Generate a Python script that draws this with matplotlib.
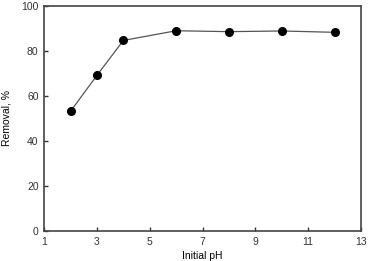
import matplotlib
matplotlib.use("Agg")
import matplotlib.pyplot as plt

ph = [2, 3, 4, 6, 8, 10, 12]
removal = [53.2, 69.2, 84.7, 89.0, 88.6, 88.9, 88.3]

plt.rcParams['font.family'] = ['Liberation Sans', 'DejaVu Sans']

fig = plt.figure(figsize=(3.68, 2.61), dpi=100)
ax = fig.add_axes([0.12, 0.115, 0.861, 0.862])

ax.plot(ph, removal, color='#555555', lw=0.9, marker='o', ms=5.5,
        mfc='black', mec='black', zorder=3)

ax.set_xlim(1, 13)
ax.set_ylim(0, 100)
ax.set_xticks([1, 3, 5, 7, 9, 11, 13])
ax.set_yticks([0, 20, 40, 60, 80, 100])
ax.tick_params(direction='in', length=3, width=1, labelsize=7.5,
               colors='#333333', pad=4)
for s in ax.spines.values():
    s.set_color('#444444')
    s.set_linewidth(1.2)

ax.set_xlabel("Initial pH", fontsize=7.5, labelpad=3)
ax.set_ylabel("Removal, %", fontsize=7.5, labelpad=7)

fig.savefig("out.png", dpi=100)
